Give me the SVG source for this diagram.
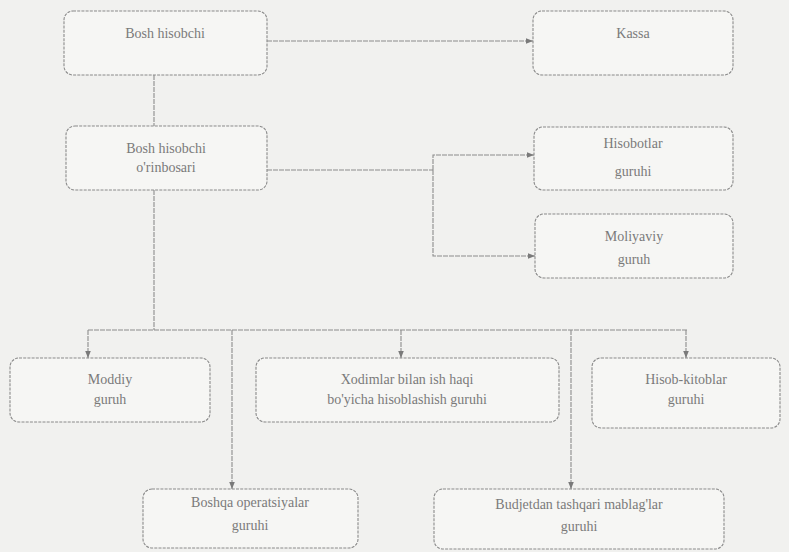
<svg xmlns="http://www.w3.org/2000/svg" width="789" height="552" viewBox="0 0 789 552">
  <style>
    .box { fill: #f6f6f4; stroke: #8a8a8a; stroke-width: 1.1; stroke-dasharray: 3 1.2; }
    .lbl { font-family: "Liberation Serif", "DejaVu Serif", "Times New Roman", serif; font-size: 14px; fill: #7a7a7a; text-anchor: middle; }
    .wire { fill: none; stroke: #8c8c8c; stroke-width: 1.1; stroke-dasharray: 5 1; }
  </style>
  <defs>
    <marker id="arrow" viewBox="0 0 8 8" refX="8" refY="4" markerWidth="7" markerHeight="7" orient="auto" markerUnits="userSpaceOnUse">
      <path d="M0,0.8 L8,4 L0,7.2 z" fill="#7a7a7a"/>
    </marker>
  </defs>

  <rect x="0" y="0" width="789" height="552" fill="#f1f1ef"/>

  <!-- connectors -->
  <g id="connectors">
    <path class="wire" d="M267,41 H533" marker-end="url(#arrow)"/>
    <path class="wire" d="M154,75 V126"/>
    <path class="wire" d="M267,170 H433"/>
    <path class="wire" d="M433,170 V155 H534" marker-end="url(#arrow)"/>
    <path class="wire" d="M433,170 V256 H535" marker-end="url(#arrow)"/>
    <path class="wire" d="M154,190 V330"/>
    <path class="wire" d="M88,330 H687"/>
    <path class="wire" d="M88,330 V358" marker-end="url(#arrow)"/>
    <path class="wire" d="M401,330 V358" marker-end="url(#arrow)"/>
    <path class="wire" d="M686,330 V358" marker-end="url(#arrow)"/>
    <path class="wire" d="M232,330 V489" marker-end="url(#arrow)"/>
    <path class="wire" d="M571,330 V489" marker-end="url(#arrow)"/>
  </g>

  <g id="bosh-hisobchi">
    <rect class="box" x="64" y="11" width="203" height="64" rx="9"/>
    <text class="lbl" x="165" y="38">Bosh hisobchi</text>
  </g>

  <g id="kassa">
    <rect class="box" x="533" y="11" width="200" height="64" rx="9"/>
    <text class="lbl" x="633" y="38">Kassa</text>
  </g>

  <g id="orinbosar">
    <rect class="box" x="66" y="126" width="201" height="64" rx="9"/>
    <text class="lbl" x="166" y="153">Bosh hisobchi</text>
    <text class="lbl" x="166" y="172">o'rinbosari</text>
  </g>

  <g id="hisobotlar">
    <rect class="box" x="534" y="127" width="199" height="63" rx="9"/>
    <text class="lbl" x="633" y="148">Hisobotlar</text>
    <text class="lbl" x="633" y="176">guruhi</text>
  </g>

  <g id="moliyaviy">
    <rect class="box" x="535" y="214" width="198" height="64" rx="9"/>
    <text class="lbl" x="634" y="241">Moliyaviy</text>
    <text class="lbl" x="634" y="264">guruh</text>
  </g>

  <g id="moddiy">
    <rect class="box" x="10" y="358" width="200" height="64" rx="9"/>
    <text class="lbl" x="110" y="384">Moddiy</text>
    <text class="lbl" x="110" y="404">guruh</text>
  </g>

  <g id="xodimlar">
    <rect class="box" x="256" y="358" width="303" height="64" rx="9"/>
    <text class="lbl" x="407" y="384">Xodimlar bilan ish haqi</text>
    <text class="lbl" x="407" y="404">bo'yicha hisoblashish guruhi</text>
  </g>

  <g id="hisob-kitoblar">
    <rect class="box" x="592" y="358" width="188" height="70" rx="9"/>
    <text class="lbl" x="686" y="384">Hisob-kitoblar</text>
    <text class="lbl" x="686" y="404">guruhi</text>
  </g>

  <g id="boshqa">
    <rect class="box" x="143" y="489" width="215" height="59" rx="9"/>
    <text class="lbl" x="250" y="507">Boshqa operatsiyalar</text>
    <text class="lbl" x="250" y="530">guruhi</text>
  </g>

  <g id="budjetdan">
    <rect class="box" x="434" y="489" width="290" height="60" rx="9"/>
    <text class="lbl" x="579" y="509">Budjetdan tashqari mablag'lar</text>
    <text class="lbl" x="579" y="531">guruhi</text>
  </g>
</svg>
